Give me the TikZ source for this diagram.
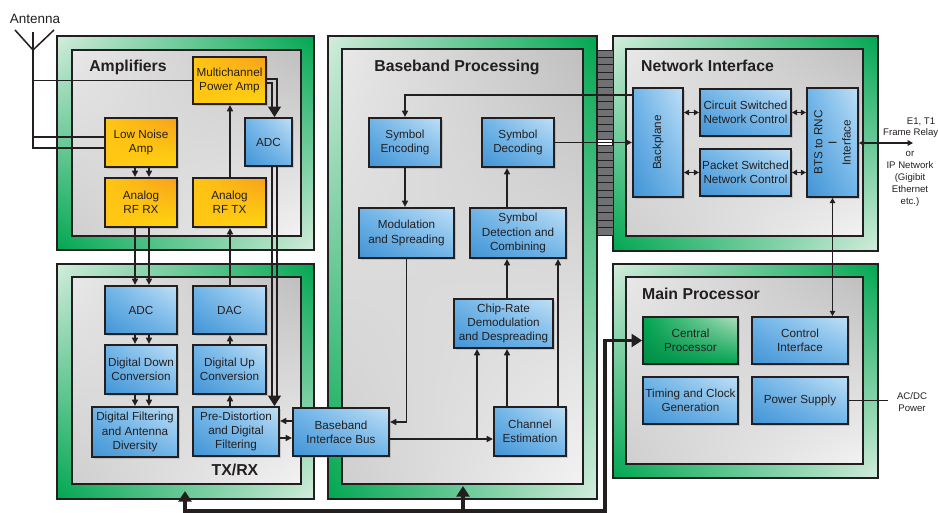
\documentclass[tikz,border=0pt]{standalone}
\usepackage{fontspec}
\setmainfont{Liberation Sans}
\usetikzlibrary{positioning,calc}
\usetikzlibrary{arrows.meta,shadows,shadings}
\definecolor{FrameGreen}{RGB}{0,166,81}
\definecolor{FrameLight}{RGB}{212,237,221}
\definecolor{BoxBlueD}{RGB}{66,148,214}
\definecolor{BoxBlueL}{RGB}{192,223,246}
\definecolor{BoxBlueM}{RGB}{112,181,232}
\definecolor{AmpYellow}{RGB}{255,198,20}
\definecolor{AmpOrange}{RGB}{247,160,27}
\definecolor{CpuLight}{RGB}{176,222,190}
\definecolor{InkGray}{RGB}{35,31,32}
\definecolor{StripeGray}{RGB}{112,113,115}
\newlength\unitpx
\setlength\unitpx{0.03cm}
\tikzset{
  frame/.style={draw=InkGray,line width=1.2pt,upper left=FrameLight,upper right=FrameGreen,
    lower left=FrameGreen,lower right=FrameLight},
  panel/.style={draw=InkGray,line width=1.4pt,upper left=black!9,upper right=black!25,
    lower left=black!19,lower right=black!5},
  rail/.style={draw=InkGray,line width=2.4pt},
  wh/.style 2 args={minimum width=#1\unitpx,minimum height=#2\unitpx},
  blk/.style={draw=InkGray,line width=1.5pt,align=center,inner sep=1pt,text=InkGray,
    font=\fontsize{10}{12}\selectfont,
    drop shadow={shadow xshift=2pt,shadow yshift=-2pt,opacity=0.3}},
  vtext/.style={rotate=90,align=center,inner sep=0pt,text=InkGray,font=\fontsize{10}{12}\selectfont},
  bluebox/.style={blk,upper left=BoxBlueM,upper right=BoxBlueL,lower left=BoxBlueD,lower right=BoxBlueM},
  ampbox/.style={blk,upper left=AmpYellow,upper right=AmpOrange,lower left=AmpYellow,lower right=AmpYellow!70!yellow},
  cpubox/.style={blk,upper left=FrameGreen,upper right=CpuLight,lower left=FrameGreen!85!black,lower right=FrameGreen},
  title/.style={font=\fontsize{13.5}{16}\selectfont\bfseries,text=InkGray,inner sep=0pt},
  note/.style={font=\fontsize{8.2}{10.2}\selectfont,text=InkGray,align=center,inner sep=0pt},
  wire/.style={draw=InkGray,line width=1.3pt},
  arr/.style={wire,-{Triangle[length=5.5pt,width=5pt]}},
  darr/.style={wire,{Triangle[length=4.5pt,width=4.6pt]}-{Triangle[length=4.5pt,width=4.6pt]}},
  bigarr/.style={wire,-{Triangle[length=9pt,width=11pt]}},
  bus/.style={draw=InkGray,line width=2.6pt},
}

\begin{document}
\begin{tikzpicture}[x=0.03cm,y=-0.03cm]
\useasboundingbox (0,0) rectangle (938,513);

% panels
\foreach \xa/\ya/\xb/\yb/\xc/\yc/\xd/\yd in {
  57/36/314/250/72/50/301/236,
  57/264/314/499/72/277/301/484,
  328/36/597/499/342/49/583/484,
  613/36/878/251/626/49/863/236,
  613/264/878/478/626/277/863/464}
{
  \shadedraw[frame] (\xa,\ya) rectangle (\xb,\yb);
  \shadedraw[panel] (\xc,\yc) rectangle (\xd,\yd);
}
\foreach \xa/\ya/\yb in {301/112/185, 626/82/217, 863/82/217, 863/308/443, 583/202/278, 583/400/477,
  301/398/478, 314/398/478, 328/398/478, 342/398/478}
  \draw[rail] (\xa,\ya) -- (\xa,\yb);

% backplane connector
\fill[StripeGray] (597,50) rectangle (613,139);
\fill[StripeGray] (597,145) rectangle (613,235);
\foreach \i in {0,...,12} {
  \draw[InkGray,line width=0.8pt] (597,{50+7.42*\i}) -- (613,{50+7.42*\i});
  \draw[InkGray,line width=0.8pt] (597,{145+7.5*\i}) -- (613,{145+7.5*\i});
}
\draw[InkGray,line width=0.8pt] (597,50) -- (597,139) (613,50) -- (613,139)
  (597,145) -- (597,235) (613,145) -- (613,235);

% titles
\node[title] (tamp) at (128,67) {Amplifiers};
\node[title] (tbb) at (457,67) {Baseband Processing};
\node[title] (tnet) at (707.5,66) {Network Interface};
\node[title] (tmain) at (701,294) {Main Processor};
\node[title] (ttx) at (235,470) {TX/RX};

% amplifiers
\node[ampbox,wh={73}{47}] (pa) at (229.5,80.5) {Multichannel\\Power Amp};
\node[ampbox,wh={72}{49}] (lna) at (141,142.5) {Low Noise\\Amp};
\node[bluebox,wh={47}{48}] (adcA) at (268.5,142) {ADC};
\node[ampbox,wh={72}{49}] (rfrx) at (141,202.5) {Analog\\RF RX};
\node[ampbox,wh={73}{49}] (rftx) at (229.5,202.5) {Analog\\RF TX};

% tx/rx
\node[bluebox,wh={72}{48}] (adc) at (141,310) {ADC};
\node[bluebox,wh={73}{48}] (dac) at (229.5,310) {DAC};
\node[bluebox,wh={72}{49}] (ddc) at (141,369.5) {Digital Down\\Conversion};
\node[bluebox,wh={73}{49}] (duc) at (229.5,369.5) {Digital Up\\Conversion};
\node[bluebox,wh={86}{50}] (dfad) at (135,432) {Digital Filtering\\and Antenna\\Diversity};
\node[bluebox,wh={86}{49}] (pdf) at (236,431.5) {Pre-Distortion\\and Digital\\Filtering};
\node[bluebox,wh={96}{48}] (bib) at (341,432) {Baseband\\Interface Bus};

% baseband
\node[bluebox,wh={72}{49}] (senc) at (405,142.5) {Symbol\\Encoding};
\node[bluebox,wh={72}{49}] (sdec) at (518,142.5) {Symbol\\Decoding};
\node[bluebox,wh={95}{50}] (mods) at (406.5,233) {Modulation\\and Spreading};
\node[bluebox,wh={96}{50}] (sdet) at (518,233) {Symbol\\Detection and\\Combining};
\node[bluebox,wh={99}{49}] (chip) at (503.5,323.5) {Chip-Rate\\Demodulation\\and Despreading};
\node[bluebox,wh={72}{49}] (chest) at (530,431.5) {Channel\\Estimation};

% network interface
\node[bluebox,wh={50}{109},label={[vtext]center:Backplane}] (bp) at (658,142.5) {};
\node[bluebox,wh={91}{47}] (csw) at (745.5,112.5) {Circuit Switched\\Network Control};
\node[bluebox,wh={91}{47}] (psw) at (745.5,172.5) {Packet Switched\\Network Control};
\node[bluebox,wh={51}{109},label={[vtext]center:{BTS to RNC\\I\\Interface}}] (bts) at (832.5,142.5) {};

% main processor
\node[cpubox,wh={95}{47}] (cpu) at (690.5,340.5) {Central\\Processor};
\node[bluebox,wh={96}{47}] (ctrl) at (800,340.5) {Control\\Interface};
\node[bluebox,wh={95}{47}] (tcg) at (690.5,400.5) {Timing and Clock\\Generation};
\node[bluebox,wh={96}{47}] (psu) at (800,400.5) {Power Supply};

% antenna
\coordinate (antTop) at (33,32);
\coordinate (antV) at (33,50);
\coordinate (antL) at (15,30);
\coordinate (antR) at (54,30);
\node[note,font=\fontsize{11.5}{13}\selectfont] (antlab) at (35,19) {Antenna};
\draw[wire] (antL) -- (antV) -- (antR);
\draw[wire] (antTop) |- ($(lna.west)+(0,5.5)$);
\coordinate (lnaA) at ($(lna.west)+(0,-5.5)$);
\draw[wire] (lnaA -| antTop) -- (lnaA);
\draw[wire] (antTop |- pa.west) -- (pa.west);

% receive and transmit chains
\coordinate (rxa) at (135,0);
\coordinate (rxb) at (149,0);
\coordinate (txc) at (230,0);
\foreach \c in {rxa,rxb} {
  \draw[arr] (\c |- lna.south) -- (\c |- rfrx.north);
  \draw[arr] (\c |- rfrx.south) -- (\c |- adc.north);
  \draw[arr] (\c |- adc.south) -- (\c |- ddc.north);
  \draw[arr] (\c |- ddc.south) -- (\c |- dfad.north);
}
\draw[arr] (txc |- pdf.north) -- (txc |- duc.south);
\draw[arr] (txc |- duc.north) -- (txc |- dac.south);
\draw[arr] (txc |- dac.north) -- (txc |- rftx.south);
\draw[arr] (txc |- rftx.north) -- (txc |- pa.south);

% feedback path
\coordinate (fbA) at (274.5,107);
\coordinate (fbB) at (274.5,396);
\draw[wire] ($(pa.east)+(0,-1.5)$) -| ($(fbA)+(2.5,1)$);
\draw[wire] ($(pa.east)+(0,2.5)$) -| ($(fbA)+(-2.5,1)$);
\draw[bigarr] (fbA) -- (fbA |- adcA.north);
\draw[wire] ($(adcA.south)+(3.5,0)$) -- ($(fbB)+(-2.5,1)$);
\draw[wire] ($(adcA.south)+(8.5,0)$) -- ($(fbB)+(2.5,1)$);
\draw[bigarr] (fbB) -- (fbB |- pdf.north);

% interface bus
\coordinate (bbA) at (0,421);
\coordinate (bbB) at (0,438);
\draw[arr] (bbA -| bib.west) -- (bbA -| pdf.east);
\draw[arr] (bbB -| pdf.east) -- (bbB -| bib.west);

% baseband paths
\coordinate (bpA) at (0,95);
\coordinate (ceA) at (0,439);
\coordinate (cr1) at (477,0);
\coordinate (cr2) at (507,0);
\coordinate (cr3) at (558,0);
\draw[arr] (senc.south) -- (senc.south |- mods.north);
\draw[arr] (bpA -| bp.west) -| (senc.north);
\draw[arr] (sdec.east) -- (bp.west);
\draw[arr] (mods.south) |- ($(bib.east)+(0,-10)$);
\draw[arr] (ceA -| bib.east) -- (ceA -| chest.west);
\draw[arr] (cr1 |- ceA) -- (cr1 |- chip.south);
\draw[arr] (cr2 |- chest.north) -- (cr2 |- chip.south);
\draw[arr] (cr2 |- chip.north) -- (cr2 |- sdet.south);
\draw[arr] (cr3 |- chest.north) -- (cr3 |- sdet.south);
\draw[arr] (cr2 |- sdet.north) -- (cr2 |- sdec.south);

% network paths
\coordinate (ext) at (913,143);
\coordinate (acdc) at (888,400.5);
\draw[darr] (bp.east |- csw.west) -- (csw.west);
\draw[darr] (csw.east) -- (csw.east -| bts.west);
\draw[darr] (bp.east |- psw.west) -- (psw.west);
\draw[darr] (psw.east) -- (psw.east -| bts.west);
\draw[darr] (bts.east |- ext) -- (ext);
\draw[darr] (bts.south) -- (bts.south |- ctrl.north);
\draw[wire] (psu.east) -- (acdc);

\node[note] (e1) at (921,122) {E1, T1};
\node[note,anchor=west] (frel) at (883,133) {Frame Relay};
\node[note] (ipnet) at (910,179) {or\\IP Network\\(Gigibit\\Ethernet\\etc.)};
\node[note] (acdclab) at (912,402) {AC/DC\\Power};

% control bus
\coordinate (txin) at (185,491);
\coordinate (bbin) at (463,486);
\coordinate (busL) at (185,511);
\coordinate (busR) at (605,511);
\draw[bus,{Triangle[length=9pt,width=11pt]}-{Triangle[length=9pt,width=11pt]}] (txin) -- (busL) -- (busR) |- (cpu.west);
\draw[bus,-{Triangle[length=9pt,width=11pt]}] (bbin |- busL) -- (bbin);
\end{tikzpicture}
\end{document}
